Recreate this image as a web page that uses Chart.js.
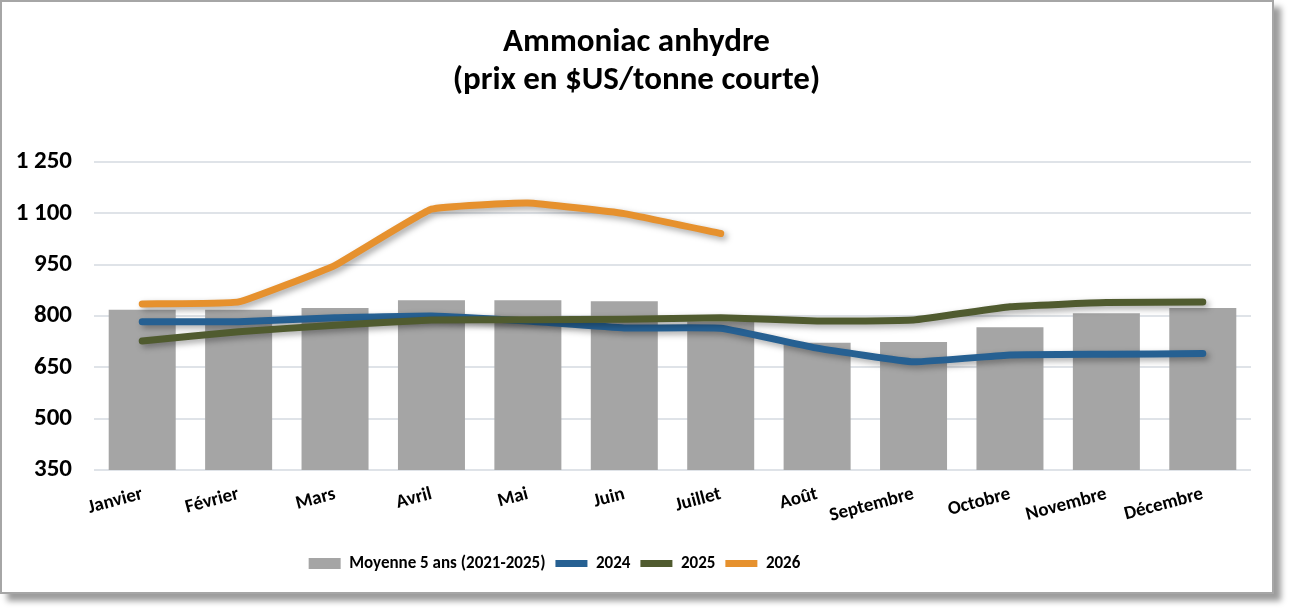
<!DOCTYPE html>
<html lang="fr">
<head>
<meta charset="utf-8">
<title>Ammoniac anhydre</title>
<script src="https://cdn.jsdelivr.net/npm/chart.js@4.4.1/dist/chart.umd.min.js"></script>
<style>
    body { margin: 0; background: #ffffff; }
    #frame {
        position: absolute;
        left: 0;
        top: 0;
        width: 1270px;
        height: 590px;
        border: 2px solid #a6a6a6;
        background: #ffffff;
        box-shadow: 7px 7px 6px #9c9c9c;
    }
</style>
</head>
<body>
<div id="frame">
    <canvas id="chart" width="1270" height="590"></canvas>
</div>
<script>
// Data
const months = ['Janvier', 'Février', 'Mars', 'Avril', 'Mai', 'Juin', 'Juillet', 'Août', 'Septembre', 'Octobre', 'Novembre', 'Décembre'];
const average5y = [818, 818, 823, 846, 846, 843, 784, 722, 724, 767, 808, 823];
const prices2024 = [783, 783, 795, 800, 785, 765, 764, 706, 666, 686, 688, 690];
const prices2025 = [727, 754, 773, 788, 789, 790, 795, 785, 788, 827, 839, 841];
const prices2026 = [835, 841, 948, 1112, 1130, 1099, 1041, null, null, null, null, null];
const yTicks = [350, 500, 650, 800, 950, 1100, 1250];

// Carlito has the same metrics as Calibri (the Excel default)
const font = 'Carlito, Lato, sans-serif';

// "1 250" style labels
function formatThousands(value) {
    return String(value).replace(/\B(?=(\d{3})+(?!\d))/g, ' ');
}

// drop shadow under the line series, like the Excel original
const lineShadow = {
    id: 'lineShadow',
    beforeDatasetDraw(chart, args) {
        if (args.meta.type !== 'line') return;
        const ctx = chart.ctx;
        ctx.save();
        ctx.shadowColor = 'rgba(0, 0, 0, 0.35)';
        ctx.shadowBlur = 6;
        ctx.shadowOffsetX = 3;
        ctx.shadowOffsetY = 3;
    },
    afterDatasetDraw(chart, args) {
        if (args.meta.type !== 'line') return;
        chart.ctx.restore();
    }
};

// title centred on the whole frame, legend a bit left of the centre (as in Excel)
const boxShift = {
    id: 'boxShift',
    afterLayout(chart) {
        chart.titleBlock.left += 10;
        chart.titleBlock.right += 10;
        chart.legend.left -= 72;
        chart.legend.right -= 72;
    }
};

function lineSeries(label, data, color, order) {
    return {
        type: 'line',
        label: label,
        data: data,
        borderColor: color,
        backgroundColor: color,
        borderWidth: 7,
        borderCapStyle: 'round',
        borderJoinStyle: 'round',
        pointRadius: 0,
        pointHoverRadius: 0,
        pointStyle: 'line',
        tension: 0.1,
        spanGaps: false,
        order: order
    };
}

const ctx = document.getElementById('chart').getContext('2d');
new Chart(ctx, {
    data: {
        labels: months,
        datasets: [
            {
                type: 'bar',
                label: 'Moyenne 5 ans (2021-2025)',
                data: average5y,
                backgroundColor: '#a5a5a5',
                borderWidth: 0,
                categoryPercentage: 1,
                barPercentage: 0.695,
                pointStyle: 'rect',
                order: 4
            },
            lineSeries('2024', prices2024, '#266092', 3),
            lineSeries('2025', prices2025, '#505b2f', 2),
            lineSeries('2026', prices2026, '#e6912e', 1)
        ]
    },
    options: {
        responsive: false,
        animation: false,
        layout: {
            padding: { left: 0, right: 21, top: 0, bottom: 10 }
        },
        plugins: {
            title: {
                display: true,
                text: ['Ammoniac anhydre', '(prix en $US/tonne courte)'],
                color: '#000000',
                font: { family: font, size: 33, weight: 'bold', lineHeight: 1.15 },
                padding: { top: 22, bottom: 62 }
            },
            legend: {
                position: 'bottom',
                labels: {
                    color: '#000000',
                    font: { family: font, size: 17, weight: 'bold' },
                    usePointStyle: true,
                    pointStyleWidth: 32,
                    boxHeight: 11,
                    padding: 10,
                    sort: (a, b) => a.datasetIndex - b.datasetIndex
                }
            },
            tooltip: { enabled: false }
        },
        scales: {
            x: {
                grid: { display: false, drawTicks: false },
                border: { display: false },
                ticks: {
                    color: '#000000',
                    font: { family: font, size: 19, weight: 'bold' },
                    minRotation: 15,
                    maxRotation: 15,
                    padding: 13
                },
                afterFit: scale => { scale.height = 75; }
            },
            y: {
                min: 350,
                max: 1250,
                afterBuildTicks: scale => {
                    scale.ticks = yTicks.map(v => ({ value: v }));
                },
                grid: { color: '#dfe3e8', lineWidth: 2, drawTicks: false },
                border: { display: false },
                ticks: {
                    color: '#000000',
                    font: { family: font, size: 25, weight: 'bold' },
                    padding: 22,
                    callback: value => formatThousands(value)
                },
                afterFit: scale => { scale.width = 92; }
            }
        }
    },
    plugins: [lineShadow, boxShift]
});
</script>
</body>
</html>
